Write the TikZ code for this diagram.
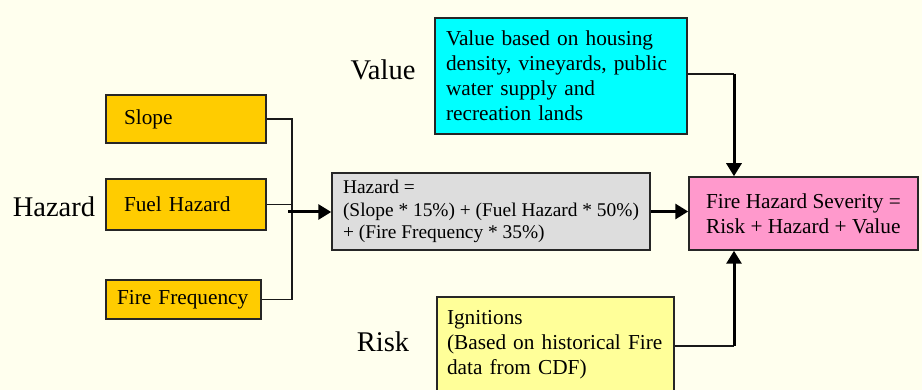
\documentclass[tikz,border=0pt]{standalone}
\usepackage{fontspec}
\setmainfont{Liberation Serif}
\usetikzlibrary{arrows.meta}
\definecolor{bgc}{HTML}{FFFFEE}
\definecolor{orangebox}{HTML}{FFCC00}
\definecolor{graybox}{HTML}{DDDDDD}
\definecolor{cyanbox}{HTML}{00FFFF}
\definecolor{pinkbox}{HTML}{FF99CC}
\definecolor{yellowbox}{HTML}{FFFF99}
\begin{document}
\begin{tikzpicture}[x=1pt,y=-1pt,
  box/.style={draw=black!85, line width=1.5pt, rectangle, align=left, inner ysep=0pt,
              font=\fontsize{21.3}{25}\selectfont},
  bigtext/.style={font=\fontsize{28.5}{32}\selectfont, inner sep=0pt},
  conn/.style={draw=black!90, line width=1.5pt},
  arr/.style={draw=black, line width=3pt, -{Triangle[length=13pt,width=15pt]}}]
\fill[bgc] (0,0) rectangle (922,390);
\clip (0,0) rectangle (922,390);

% hazard inputs
\node[box, fill=orangebox, text width=124pt, inner xsep=18pt, minimum height=48pt] (slope) at (186,119) {Slope};
\node[box, fill=orangebox, text width=124pt, inner xsep=18pt, minimum height=51pt] (fuel) at (186,204.5) {Fuel Hazard};
\node[box, fill=orangebox, text width=133pt, inner xsep=11pt, minimum height=39pt] (freq) at (183.5,299.5) {Fire Frequency};

% formula
\node[box, fill=graybox, inner xsep=0pt, minimum width=318pt, minimum height=77pt,
      font=\fontsize{19.4}{22.5}\selectfont] (calc) at (491,211.5)
  {Hazard =\\(Slope * 15\%) + (Fuel Hazard * 50\%)\\+ (Fire Frequency * 35\%)};

% value
\node[box, fill=cyanbox, text width=230pt, inner xsep=11pt, minimum height=116pt] (val) at (561,76)
  {Value based on housing\\density, vineyards, public\\water supply and\\recreation lands};

% result
\node[box, fill=pinkbox, inner xsep=0pt, minimum width=229pt, minimum height=73pt] (fhs) at (803.5,213.5)
  {Fire Hazard Severity =\\Risk + Hazard + Value};

% risk
\node[box, fill=yellowbox, text width=217pt, inner xsep=10pt, minimum height=95pt] (ign) at (555.5,344.5)
  {Ignitions\\(Based on historical Fire\\data from CDF)};

% side labels
\node[bigtext] (lhaz) at (54,207) {Hazard};
\node[bigtext] (lval) at (383,70) {Value};
\node[bigtext] (lrisk) at (383,342) {Risk};

% connectors
\coordinate (bus) at (292,0);
\coordinate (hz) at (288,212);
\coordinate (vx) at (734,0);
\coordinate (vtop) at (734,74);
\coordinate (rbot) at (734,346);

\draw[conn] (slope.east) -- (slope.east -| bus) -- (bus |- freq.east) -- (freq.east);
\draw[conn] (fuel.east) -- (fuel.east -| bus);
\draw[arr] (hz) -- (hz -| calc.west);
\draw[arr] (calc.east) -- (calc.east -| fhs.west);
\draw[conn] (val.east |- vtop) -- (vtop);
\draw[arr] (vtop) -- (vtop |- fhs.north);
\draw[conn] (ign.east |- rbot) -- (rbot);
\draw[arr] (rbot) -- (rbot |- fhs.south);
\end{tikzpicture}
\end{document}
